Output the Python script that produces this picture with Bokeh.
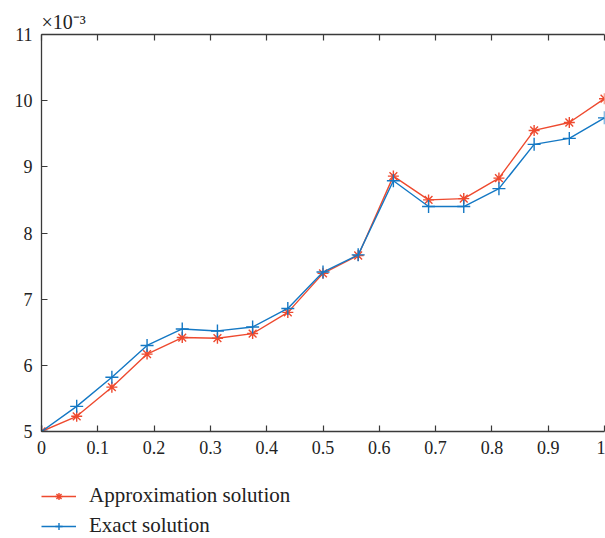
from bokeh.plotting import figure
from bokeh.layouts import column
from bokeh.models import LinearAxis, FixedTicker, Legend, LegendItem, Title, Range1d
from bokeh.embed import file_html
from bokeh.resources import INLINE

x_values = [i / 16 for i in range(17)]
approx_values = [5.00, 5.23, 5.67, 6.17, 6.42, 6.41, 6.48, 6.80, 7.39, 7.66,
                 8.86, 8.50, 8.52, 8.83, 9.55, 9.67, 10.03]
exact_values = [5.00, 5.38, 5.82, 6.30, 6.55, 6.52, 6.58, 6.86, 7.41, 7.67,
                8.79, 8.40, 8.40, 8.67, 9.34, 9.43, 9.74]
x_ticks = [0, 0.1, 0.2, 0.3, 0.4, 0.5, 0.6, 0.7, 0.8, 0.9, 1]
x_tick_labels = ["0", "0.1", "0.2", "0.3", "0.4", "0.5", "0.6", "0.7", "0.8", "0.9", "1"]
y_ticks = [5, 6, 7, 8, 9, 10, 11]
y_tick_labels = ["5", "6", "7", "8", "9", "10", "11"]
series_names = ["Approximation solution", "Exact solution"]
scale_text = "×10⁻³"

RED = "#ee4a2f"
BLUE = "#1478c4"
AXC = "#3a3a3a"
FONT = "Liberation Serif"

p = figure(width=605, height=461, output_backend="svg", toolbar_location=None,
           x_range=Range1d(0, 1), y_range=Range1d(5, 11),
           min_border_left=41, min_border_right=1, min_border_top=34,
           min_border_bottom=30)
p.outline_line_color = None
p.xgrid.visible = False
p.ygrid.visible = False
p.background_fill_color = "white"

def style_axis(ax, ticks, labels):
    ax.ticker = FixedTicker(ticks=ticks)
    ax.major_label_overrides = {t: l for t, l in zip(ticks, labels)}
    ax.axis_line_color = AXC
    ax.axis_line_width = 1.3
    ax.major_tick_line_color = AXC
    ax.major_tick_line_width = 1.2
    ax.major_tick_in = 6
    ax.major_tick_out = 0
    ax.minor_tick_line_color = None
    ax.major_label_text_font = FONT
    ax.major_label_text_font_size = "18px"
    ax.major_label_text_color = "#222222"
    ax.major_label_standoff = 9

style_axis(p.xaxis[0], x_ticks, x_tick_labels)
style_axis(p.yaxis[0], y_ticks, y_tick_labels)

top = LinearAxis()
top.ticker = FixedTicker(ticks=x_ticks)
top.axis_line_color = AXC
top.axis_line_width = 1.3
top.major_tick_line_color = AXC
top.major_tick_line_width = 1.2
top.major_tick_in = 6
top.major_tick_out = 0
top.minor_tick_line_color = None
top.major_label_text_color = None
top.major_label_text_font_size = "1px"
top.major_label_standoff = 0
p.add_layout(top, "above")

p.add_layout(Title(text=scale_text, text_font=FONT, text_font_size="20px",
                   text_font_style="normal", text_color="#222222",
                   align="left", offset=0, standoff=3), "above")

def draw_series(fig):
    a_line = fig.line(x_values, approx_values, line_color=RED, line_width=1.4)
    a_pts = fig.scatter(x_values, approx_values, marker="asterisk", size=11,
                        line_color=RED, line_width=1.4)
    e_line = fig.line(x_values, exact_values, line_color=BLUE, line_width=1.4)
    e_pts = fig.scatter(x_values, exact_values, marker="cross", size=13,
                        line_color=BLUE, line_width=1.4)
    return a_line, a_pts, e_line, e_pts

draw_series(p)

# legend panel below the chart (series drawn outside its visible ranges)
p2 = figure(width=605, height=77, output_backend="svg", toolbar_location=None,
            x_axis_type=None, y_axis_type=None,
            x_range=Range1d(0, 1), y_range=Range1d(-2, -1),
            min_border=0)
p2.outline_line_color = None
p2.xgrid.visible = False
p2.ygrid.visible = False
k1, k1s, k2, k2s = draw_series(p2)

legend = Legend(items=[LegendItem(label=series_names[0], renderers=[k1, k1s]),
                       LegendItem(label=series_names[1], renderers=[k2, k2s])],
                location=(0, 0))
legend.border_line_color = None
legend.background_fill_alpha = 0
legend.padding = 0
legend.margin = 0
legend.spacing = 5
legend.glyph_width = 35
legend.glyph_height = 18
legend.label_height = 18
legend.label_standoff = 13
legend.label_text_font = FONT
legend.label_text_font_size = "21px"
legend.label_text_color = "#222222"
p2.add_layout(legend, "center")

layout = column(p, p2, spacing=0)
open("out.html", "w").write(file_html(layout, INLINE))
